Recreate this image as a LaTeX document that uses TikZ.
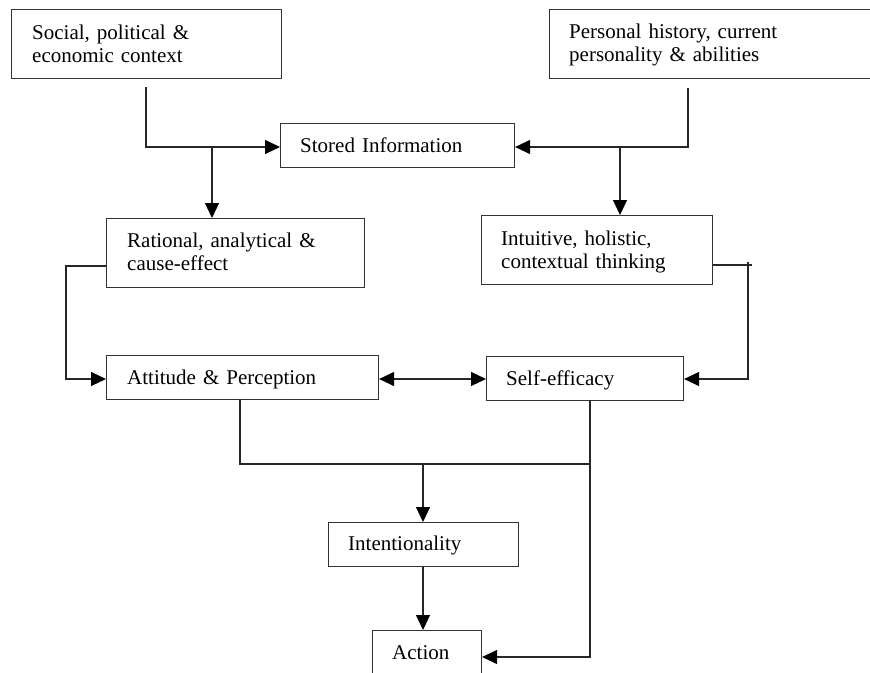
\documentclass[tikz,border=0pt]{standalone}
\usepackage{fontspec}
\setmainfont{Liberation Serif}
\usetikzlibrary{arrows.meta}
\begin{document}
\begin{tikzpicture}[x=1pt,y=-1pt,
  box/.style={draw=black!80, line width=1.1pt, rectangle, inner sep=0pt, anchor=north west},
  txt/.style={anchor=base west, inner sep=0pt, align=left, text width=#1,
    font=\fontsize{21}{23}\selectfont},
  txt/.default=300pt,
  conn/.style={draw=black!85, line width=1.1pt},
  tip/.style={Triangle[length=15pt,width=14pt,fill=black,color=black]},
  arr/.style={conn, -{Triangle[length=15pt,width=14pt,color=black]}},
  darr/.style={conn, {Triangle[length=15pt,width=14pt,color=black]}-{Triangle[length=15pt,width=14pt,color=black]}}]
\useasboundingbox (0,0) rectangle (870,672);

% boxes
\node[box, minimum width=270pt, minimum height=69pt] (social) at (11,9) {};
\node[box, minimum width=336pt, minimum height=69pt] (personal) at (549,9) {};
\node[box, minimum width=234pt, minimum height=44pt] (stored) at (280,123) {};
\node[box, minimum width=258pt, minimum height=69pt] (rational) at (106,218) {};
\node[box, minimum width=231pt, minimum height=69pt] (intuitive) at (481,215) {};
\node[box, minimum width=272pt, minimum height=44pt] (attitude) at (106,355) {};
\node[box, minimum width=197pt, minimum height=44pt] (self) at (486,356) {};
\node[box, minimum width=190pt, minimum height=44pt] (intent) at (328,522) {};
\node[box, minimum width=109pt, minimum height=70pt] (action) at (372,630) {};

% texts
\node[txt] (socialtxt) at (32,39) {Social, political \&\\economic context};
\node[txt] (personaltxt) at (569,38) {Personal history, current\\personality \& abilities};
\node[txt] (storedtxt) at (300,152) {Stored Information};
\node[txt] (rationaltxt) at (127,247) {Rational, analytical \&\\cause-effect};
\node[txt] (intuitivetxt) at (501,245) {Intuitive, holistic,\\contextual thinking};
\node[txt] (attitudetxt) at (127,384) {Attitude \& Perception};
\node[txt] (selftxt) at (506,385) {Self-efficacy};
\node[txt] (intenttxt) at (348,550) {Intentionality};
\node[txt] (actiontxt) at (392,659) {Action};

% junction points
\coordinate (s0) at (146,87);
\coordinate (s1) at (146,147);
\coordinate (p0) at (688,88);
\coordinate (p1) at (688,147);
\coordinate (r1) at (66,266);
\coordinate (r2) at (66,379);
\coordinate (i1) at (752,265);
\coordinate (i2) at (748,262);
\coordinate (i3) at (748,379);
\coordinate (a0) at (240,399);
\coordinate (a1) at (240,464);
\coordinate (e0) at (590,400);
\coordinate (e1) at (590,464);
\coordinate (e2) at (590,657);

% connectors
\draw[arr] (s0) -- (s1) -- (s1 -| stored.west);
\draw[arr] (212,147) -- (212,147 |- rational.north);
\draw[arr] (p0) -- (p1) -- (p1 -| stored.east);
\draw[arr] (620,147) -- (620,147 |- intuitive.north);
\draw[arr] (r1 -| rational.west) -- (r1) -- (r2) -- (r2 -| attitude.west);
\draw[conn] (i1 -| intuitive.east) -- (i1);
\draw[arr] (i2) -- (i3) -- (i3 -| self.east);
\draw[darr] (r2 -| attitude.east) -- (r2 -| self.west);
\draw[conn] (a0) -- (a1) -- (e1);
\draw[arr] (e0) -- (e2) -- (e2 -| action.east);
\draw[arr] (423,464) -- (423,464 |- intent.north);
\draw[arr] (intent.south -| 423,0) -- (423,0 |- action.north);
\end{tikzpicture}
\end{document}
